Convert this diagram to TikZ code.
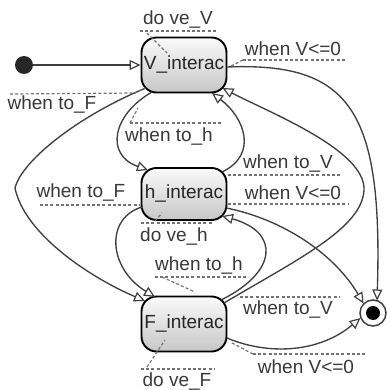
\documentclass[tikz,border=0pt]{standalone}
\usepackage{fontspec}
\setmainfont{Liberation Sans}
\usetikzlibrary{arrows.meta,calc}
\begin{document}
\begin{tikzpicture}[x=1pt,y=-1pt,
  stbox/.style={draw=black, line width=1.9pt, rounded corners=15pt,
    minimum width=85pt, minimum height=55pt, inner sep=0pt,
    top color=black!2, bottom color=black!22,
    font=\fontsize{19}{21}\selectfont, text=black!85},
  trans/.style={draw=black!75, line width=1.35pt,
    -{Triangle[length=11pt,width=10pt,fill=white,line width=1.2pt]}},
  lbl/.style={font=\fontsize{19}{21}\selectfont, text=black!78, inner sep=0pt},
  dl/.style={draw=black!55, line width=1.2pt, dash pattern=on 3pt off 2.2pt}]
\useasboundingbox (0,0) rectangle (389,390);

% states
\node[stbox] (V) at (184,65) {V\_interac};
\node[stbox, minimum height=52pt] (H) at (184,194) {h\_interac};
\node[stbox] (F) at (184,324) {F\_interac};
\node[circle, fill=black!85, minimum size=18pt, inner sep=0pt] (init) at (24,65) {};
\node[circle, draw=black!75, line width=1.5pt, fill=white, minimum size=26pt, inner sep=0pt] (fin) at (373,313) {};
\node[circle, fill=black, minimum size=14pt, inner sep=0pt] (finc) at (373,313) {};

% transitions
\draw[trans] (init) -- (V.west);
\draw[trans] ($(V)+(43,2)$) .. controls (350,62) and (383,110) .. ($(fin)+(4,-12.5)$);
\draw[trans] ($(V)+(-32,27)$) .. controls (112,115) and (105,155) .. ($(H)+(-36,-24)$);
\draw[trans] ($(H)+(38,-22)$) .. controls (258,155) and (245,118) .. ($(V)+(28,28)$);
\draw[trans] ($(H)+(42.5,14)$) .. controls (285,220) and (335,255) .. ($(fin)+(-9.5,-9.5)$);
\draw[trans] ($(V)+(-38,23)$) .. controls (80,115) and (22,160) .. (15,188)
   .. controls (24,232) and (85,275) .. ($(F)+(-39,-23)$);
\draw[trans] ($(H)+(-42,13)$) .. controls (105,218) and (108,268) .. ($(F)+(-29,-27)$);
\draw[trans] ($(F)+(37,-24)$) .. controls (278,272) and (280,232) .. ($(H)+(38,22)$);
\draw[trans] ($(F)+(40,-21)$) .. controls (300,258) and (362,228) .. (364,190)
   .. controls (366,150) and (268,112) .. ($(V)+(38.5,23)$);
\draw[trans] ($(F)+(43,14)$) .. controls (270,356) and (320,352) .. ($(fin)+(-12.5,5)$);

% labels
\node[lbl] (l1) at (178,20) {do ve\_V};
\node[lbl] (l2) at (293,49) {when V<=0};
\node[lbl] (l3) at (52,105) {when to\_F};
\node[lbl] (l4) at (169,137) {when to\_h};
\node[lbl] (l5) at (288,164) {when to\_V};
\node[lbl] (l6) at (293,193) {when V<=0};
\node[lbl] (l7) at (81,193) {when to\_F};
\node[lbl] (l8) at (174,237) {do ve\_h};
\node[lbl] (l9) at (199,266) {when to\_h};
\node[lbl] (l10) at (288,310) {when to\_V};
\node[lbl] (l11) at (306,367) {when V<=0};
\node[lbl] (l12) at (177,381) {do ve\_F};

% label guide lines
\draw[dl] (140,31) -- (217,31);
\draw[dl] (147,33) -- (167,53);
\draw[dl] (243,60) -- (345,60);
\draw[dl] (243,60) -- (231,66);
\draw[dl] (10,94) -- (135,93) -- (145,88);
\draw[dl] (130,123) -- (222,123);
\draw[dl] (130,123) -- (138,108);
\draw[dl] (228,175) -- (340,175);
\draw[dl] (228,204) -- (348,204);
\draw[dl] (40,205) -- (140,205);
\draw[dl] (141,223) -- (213,223);
\draw[dl] (155,221) -- (162,213);
\draw[dl] (155,277) -- (247,277);
\draw[dl] (162,277) -- (195,292);
\draw[dl] (240,297) -- (340,297);
\draw[dl] (253,354) -- (365,354);
\draw[dl] (253,354) -- (232,343);
\draw[dl] (141,369) -- (215,369);
\draw[dl] (147,367) -- (165,340);
\end{tikzpicture}
\end{document}
